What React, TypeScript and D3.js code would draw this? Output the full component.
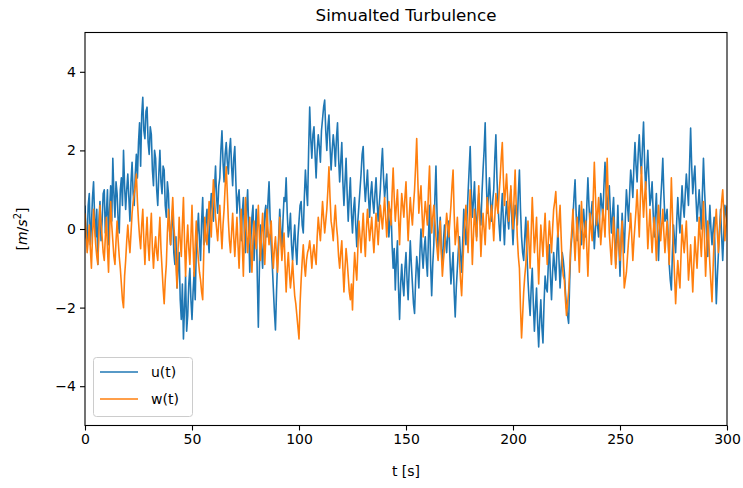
import * as d3 from "d3";
import { useEffect, useRef } from "react";

// u(t) at whole seconds, t = 0..300
const uValues = [
  0.6, -0.3, 0.9, 0.1, 1.2, -0.2, -0.9, 0.7, 0.2, 1.0,
  0.4, -0.4, 1.1, 1.8, 0.3, 0.9, -0.1, 1.3, 2.0, 0.5,
  1.4, 0.2, 1.7, 0.6, 1.9, 2.2, 1.6, 3.35, 2.3, 3.1,
  1.9, 2.4, 1.1, 1.8, 0.6, 2.0, 0.9, 1.5, 0.3, 0.9,
  -0.4, 0.5, -0.9, -1.5, -0.6, -2.3, -2.8, -1.2, -2.2, -1.0,
  -2.3, -1.1, -0.5, 0.4, -0.8, 0.8, -0.3, 0.5, -0.6, 0.9,
  0.2, 1.6, 0.4, 1.3, 2.5, 1.2, 2.2, 1.4, 2.3, 1.1,
  2.1, 0.4, 1.0, -0.3, 0.8, -0.6, 1.0, -1.1, 0.3, -0.8,
  0.5, -2.5, 0.1, -1.0, 0.4, -0.2, 1.2, -0.4, -1.5, -2.57,
  -0.8, 0.5, -0.6, 0.8, 1.3, -0.2, 0.4, -0.8, 0.1, -0.9,
  0.2, 0.7, -0.1, 1.5, 0.6, 3.1, 1.8, 2.6, 1.3, 2.4,
  1.7, 2.8, 3.28, 2.0, 2.9, 1.5, 2.4, 1.6, 2.7, 1.2,
  2.2, 0.6, 1.8, 0.2, 1.3, -0.1, 0.8, -0.45, 0.6, 1.4,
  2.1, 0.7, 1.5, 0.3, 1.2, 0.4, 1.3, 0.2, 1.0, 2.05,
  0.8, 1.4, -0.2, 0.5, -1.0, -1.55, -0.3, -2.3, -0.9, -1.7,
  -0.6, -1.8, -0.3, -1.4, -2.15, -0.7, -1.5, 0.0, -1.0, -0.2,
  -1.2, 0.6, -1.7, -0.4, 1.6, -0.5, 0.3, -0.9, 0.1, -0.6,
  0.2, -1.4, -0.6, -2.24, -1.0, -0.2, -1.1, 0.5, -0.4, 0.9,
  2.1, 0.3, 1.2, -0.2, 0.9, 0.1, 1.5, 2.7, 0.4, 1.3,
  0.2, 1.0, 2.4, 0.6, -0.3, 0.9, -0.4, 0.7, 0.0, 1.0,
  -0.4, 0.6, 0.1, 1.5, -0.2, -0.8, 0.3, -1.3, -2.2, -1.0,
  -2.6, -1.5, -3.0, -1.8, -2.9, -1.2, -1.6, -0.4, -1.8, -0.6,
  -1.3, 0.0, -1.5, -0.6, -1.1, -2.0, -2.4, -0.5, 0.3, 1.25,
  -0.3, 0.6, -0.4, 0.5, -0.2, 1.3, 0.1, 0.7, -0.5, 0.4,
  -0.2, 0.9, 0.3, 1.7, 0.5, 1.1, -0.1, 0.8, -0.9, 0.6,
  -1.2, 0.4, -0.6, 1.0, 0.2, 1.5, 0.8, 2.2, 1.2, 2.4,
  1.4, 2.72, 1.0, 2.0, 0.6, 1.2, -0.2, 0.9, -0.8, 0.7,
  1.8, 0.2, 0.5, -0.9, -1.55, 0.1, -0.6, 0.8, -0.1, 1.1,
  0.3, 1.4, 0.6, 2.57, 0.9, 1.6, 0.2, 1.0, 0.0, 1.8,
  0.4, -0.7, 0.6, -0.4, 0.3, -1.9, -0.6, 0.5, -0.8, 0.6,
  0.2,
];

// u(t) at the half seconds, t = 0.5..299.5
const uHalf = [
  -0.2, 0.6, -0.4, 0.8, 0.3, 0.5, 0.2, -0.3, 0.9, -0.1,
  1.0, 0.5, 0.2, 0.9, 1.2, 0.2, 1.0, 0.6, 1.1, 1.0,
  0.8, 1.2, 0.9, 1.4, 1.3, 2.7, 2.9, 2.5, 3.0, 2.2,
  2.6, 1.5, 2.0, 1.0, 1.4, 1.2, 1.6, 0.6, 1.2, 0.0,
  0.2, -0.6, -0.2, -1.0, -1.8, -1.4, -2.0, -2.6, -1.4, -1.8,
  -1.6, -1.8, -0.1, -0.3, 0.2, -0.4, 0.2, -0.2, 0.4, 0.5,
  1.0, 0.8, 1.1, 2.0, 1.7, 1.9, 1.7, 2.0, 1.6, 1.8,
  1.2, 0.8, 0.3, 0.4, -0.1, 0.5, 0.0, -0.3, 0.6, -0.2,
  -1.2, -1.0, -0.5, -0.2, 0.6, 0.7, 0.3, -0.9, -2.1, -1.6,
  -0.2, 0.0, 0.2, 0.7, 0.4, 0.0, -0.4, -0.3, -0.5, -0.2,
  0.6, 0.1, 0.8, 1.0, 2.0, 2.3, 2.4, 1.9, 2.0, 2.1,
  2.5, 3.1, 2.5, 2.6, 2.1, 2.0, 2.1, 2.3, 1.8, 1.7,
  1.2, 1.2, 0.9, 0.8, 0.4, 0.5, 0.1, 0.2, 1.0, 1.9,
  1.2, 1.1, 0.8, 0.9, 0.7, 0.9, 0.7, 0.6, 1.6, 1.3,
  1.1, 0.5, 0.2, -0.4, -0.5, -0.8, -1.5, -1.4, -1.4, -1.0,
  -1.3, -1.0, -0.9, -1.9, -1.3, -1.0, -0.6, -0.6, -0.5, -0.8,
  -0.2, -0.9, -0.9, 0.8, 0.4, -0.1, -0.5, -0.3, -0.3, -0.1,
  -0.7, -1.0, -1.6, -1.5, -0.5, -0.7, -0.3, 0.0, 0.3, 1.5,
  1.0, 0.7, 0.4, 0.5, 0.4, 0.9, 2.0, 1.3, 0.8, 0.7,
  0.7, 1.8, 1.3, 0.1, 0.4, 0.2, 0.3, 0.3, 0.6, 0.2,
  0.2, 0.4, 0.9, 0.5, -0.6, -0.2, -0.6, -1.8, -1.5, -1.9,
  -2.0, -2.4, -2.3, -2.5, -1.9, -1.5, -0.9, -1.2, -1.1, -1.0,
  -0.6, -0.8, -1.0, -0.8, -1.6, -2.2, -1.3, -0.2, 0.8, 0.4,
  0.2, 0.0, 0.1, 0.1, 0.6, 0.6, 0.4, 0.1, 0.0, 0.1,
  0.4, 0.6, 1.1, 1.0, 0.8, 0.4, 0.4, -0.1, -0.2, -0.4,
  -0.3, -0.1, 0.3, 0.6, 0.9, 1.2, 1.6, 1.6, 1.9, 1.8,
  2.1, 1.7, 1.5, 1.3, 0.8, 0.4, 0.4, 0.0, 0.0, 1.2,
  0.9, 0.3, -0.2, -1.3, -0.6, -0.3, 0.2, 0.3, 0.5, 0.6,
  0.9, 1.0, 1.6, 1.6, 1.3, 0.8, 0.6, 0.5, 0.9, 1.0,
  -0.2, 0.0, 0.0, 0.0, -0.8, -1.2, 0.0, -0.2, -0.1, 0.4,
];

// w(t) at whole seconds
const wValues = [
  0.4, -0.6, 0.1, -1.0, 0.5, -0.4, -0.9, 0.6, -0.2, -0.8,
  0.3, -1.1, 0.7, -0.3, -0.9, 0.2, -0.7, -1.4, -2.0, -0.8,
  0.1, -0.6, 0.4, 0.9, 1.4, 0.2, -0.5, 0.5, -0.9, 0.3,
  -0.8, 0.4, -1.0, -0.2, -0.8, 0.3, -1.0, -1.9, -0.9, 0.5,
  -0.4, 0.8, -0.3, -1.5, 0.3, -0.7, 0.8, -1.2, 0.1, -0.9,
  0.6, -1.2, 0.2, -0.8, -1.3, -1.8, 0.3, -0.4, 0.7, -0.2,
  1.25, 0.3, -0.3, 0.6, -0.5, 0.5, 1.58, 0.2, -0.6, 0.4,
  -0.7, 0.3, -1.0, 0.5, -1.2, 0.8, -0.6, 0.3, -1.1, 0.2,
  -0.5, 0.6, -0.8, 0.4, -0.9, 0.5, -0.4, 0.2, -1.0, -0.2,
  -1.1, 0.3, -0.8, -0.1, -1.6, -0.6, -1.5, -0.8, -1.7, -2.2,
  -2.8, -1.3, -0.4, -1.2, -0.6, -0.3, -1.0, -0.4, -0.9, 0.3,
  -0.3, 0.7, -0.1, 0.5, 1.58, 0.2, -0.3, 0.6, -0.2, -1.0,
  -0.3, -1.6, -0.5, -1.2, -1.8, -2.06, -0.6, -1.3, 0.2, -0.6,
  0.4, -0.7, 0.5, -0.3, 0.3, -0.6, 0.4, -0.4, 0.6, 0.0,
  0.8, -0.2, 0.7, 0.1, 1.55, 0.2, 1.0, -0.4, 0.9, 0.3,
  1.2, -0.3, 0.8, 0.1, 1.0, 2.3, 0.4, 1.1, -0.2, 0.7,
  0.1, 1.6, -0.1, 0.6, -0.2, -0.8, 0.2, -1.2, -0.5, 0.4,
  -0.2, 0.6, 1.5, -0.4, 0.3, -0.8, -1.7, -0.3, 0.6, -0.6,
  1.0, -0.9, 0.5, -0.3, 1.1, -0.7, 0.4, -0.4, 0.8, 0.0,
  0.6, -0.3, 0.9, 0.4, 1.3, 2.2, 0.6, 1.4, 0.2, 1.1,
  0.0, 1.5, -0.2, -1.0, -2.77, -1.6, -0.9, 0.2, -1.0, 0.8,
  -0.6, 0.3, -1.4, 0.1, -0.7, 0.4, -0.9, 0.2, -0.6, 0.5,
  0.95, -0.2, 0.6, -0.9, -1.3, -2.2, -1.6, -0.4, 0.5, -0.8,
  0.3, -1.1, 0.7, -0.5, 0.2, -1.2, 0.4, -0.3, 1.7, 0.1,
  0.8, -0.4, 0.5, -0.2, 1.8, -0.1, -0.9, 0.3, -1.0, 0.0,
  -0.8, 0.2, -1.5, -1.1, -0.3, 0.4, -0.8, 0.1, 1.0, -0.2,
  1.58, 0.3, 1.2, -0.5, 0.5, -0.6, 0.3, -0.8, 0.6, -0.3,
  0.5, -0.6, 0.2, -0.9, 1.3, -0.5, -1.9, -0.8, -1.5, 0.1,
  -0.6, 0.2, -1.3, -0.4, -1.6, -0.2, -1.0, 0.3, -0.7, 0.7,
  -1.2, 0.2, -0.9, -1.85, -0.2, 0.5, -0.6, 0.3, 1.0, -0.3,
  0.6,
];

// w(t) at the half seconds
const wHalf = [
  -0.1, -0.3, -0.5, -0.2, 0.0, -0.7, -0.1, 0.1, -0.6, -0.2,
  -0.5, -0.1, 0.1, -0.7, -0.3, -0.3, -1.0, -1.8, -1.2, -0.3,
  -0.3, -0.1, 0.7, 1.1, 0.7, -0.2, 0.1, -0.3, -0.2, -0.4,
  -0.1, -0.5, -0.5, -0.6, -0.2, -0.5, -1.5, -1.3, -0.1, 0.0,
  0.3, 0.1, -0.9, -0.5, -0.3, 0.1, -0.3, -0.4, -0.5, -0.2,
  -0.4, -0.4, -0.4, -1.1, -1.6, -0.6, -0.2, 0.2, 0.2, 0.6,
  0.8, 0.0, 0.2, 0.0, 0.1, 1.1, 0.9, -0.3, -0.1, -0.2,
  -0.2, -0.4, -0.2, -0.4, -0.1, 0.0, -0.2, -0.5, -0.3, -0.2,
  0.0, -0.2, -0.1, -0.3, -0.2, 0.0, -0.1, -0.5, -0.5, -0.7,
  -0.4, -0.3, -0.4, -0.9, -1.0, -1.1, -1.2, -1.3, -1.9, -2.5,
  -1.9, -0.8, -0.9, -0.8, -0.5, -0.6, -0.6, -0.7, -0.2, 0.0,
  0.2, 0.3, 0.2, 1.0, 0.8, 0.0, 0.2, 0.1, -0.7, -0.6,
  -1.0, -1.0, -0.8, -1.6, -1.4, -1.2, -1.0, -0.5, -0.2, -0.1,
  -0.2, 0.0, 0.1, 0.0, -0.2, -0.1, 0.0, 0.1, 0.3, 0.4,
  0.3, 0.3, 0.4, 0.9, 0.8, 0.6, 0.3, 0.3, 0.6, 0.8,
  0.4, 0.3, 0.4, 0.6, 1.6, 1.3, 0.8, 0.4, 0.3, 0.4,
  1.0, 0.6, 0.3, 0.2, -0.5, -0.3, -0.6, -0.8, 0.0, 0.1,
  0.2, 1.1, 0.4, -0.1, -0.3, -1.3, -1.0, 0.2, 0.0, 0.2,
  0.1, -0.2, 0.1, 0.4, 0.2, -0.1, 0.0, 0.3, 0.4, 0.3,
  0.2, 0.3, 0.6, 0.9, 1.8, 1.3, 1.0, 0.8, 0.6, 0.5,
  0.8, 0.6, -0.7, -2.0, -2.2, -1.2, -0.3, -0.4, -0.1, 0.1,
  -0.2, -0.6, -0.6, -0.3, -0.1, -0.3, -0.3, -0.2, 0.0, 0.7,
  0.3, 0.2, -0.2, -1.2, -1.8, -1.9, -1.0, 0.0, -0.2, -0.2,
  -0.4, -0.2, 0.1, -0.1, -0.5, -0.4, 0.0, 0.8, 0.9, 0.4,
  0.2, 0.0, 0.2, 0.8, 0.8, -0.5, -0.3, -0.3, -0.5, -0.4,
  -0.3, -0.6, -1.3, -0.7, 0.0, -0.2, -0.3, 0.5, 0.4, 0.7,
  0.9, 0.8, 0.3, 0.0, -0.1, -0.1, -0.2, -0.1, 0.1, 0.1,
  -0.1, -0.2, -0.3, 0.2, 0.4, -1.2, -1.3, -1.2, -0.7, -0.3,
  -0.2, -0.5, -0.9, -1.0, -0.9, -0.6, -0.4, -0.2, 0.0, -0.3,
  -0.5, -0.3, -1.4, -1.0, 0.1, -0.1, -0.1, 0.7, 0.4, 0.1,
];

const xTicks = [0, 50, 100, 150, 200, 250, 300];
const yTicks = [-4, -2, 0, 2, 4];
const seriesNames = ["u(t)", "w(t)"];
const seriesColors = ["#1f77b4", "#ff7f0e"];

const W = 743;
const H = 488;
const margin = { top: 32.5, right: 16, bottom: 62.5, left: 85 };
const font = "DejaVu Sans, sans-serif";

// interleave whole-second and half-second readings into [t, v] pairs
const toPoints = (whole: number[], half: number[]) => {
  const pts: [number, number][] = [];
  whole.forEach((v, i) => {
    pts.push([i, v]);
    if (i < half.length) pts.push([i + 0.5, half[i]]);
  });
  return pts;
};

const App = () => {
  const ref = useRef<SVGSVGElement>(null);

  useEffect(() => {
    const svg = d3.select(ref.current);
    svg.selectAll("*").remove();

    const x = d3.scaleLinear().domain([0, 300]).range([margin.left, W - margin.right]);
    const y = d3.scaleLinear().domain([-5, 5]).range([H - margin.bottom, margin.top]);

    svg.append("rect").attr("width", W).attr("height", H).attr("fill", "#fff");

    const clipId = "plot-clip";
    svg.append("clipPath").attr("id", clipId)
      .append("rect")
      .attr("x", x(0)).attr("y", y(5))
      .attr("width", x(300) - x(0)).attr("height", y(-5) - y(5));

    const line = d3.line<[number, number]>()
      .x((d) => x(d[0]))
      .y((d) => y(d[1]));

    const plot = svg.append("g").attr("clip-path", `url(#${clipId})`);
    [toPoints(uValues, uHalf), toPoints(wValues, wHalf)].forEach((pts, k) => {
      plot.append("path")
        .datum(pts)
        .attr("d", line)
        .attr("fill", "none")
        .attr("stroke", seriesColors[k])
        .attr("stroke-width", 1.6)
        .attr("stroke-linejoin", "round");
    });

    const xAxis = d3.axisBottom(x).tickValues(xTicks).tickSize(5).tickPadding(4).tickFormat(d3.format("d"));
    const yAxis = d3.axisLeft(y).tickValues(yTicks).tickSize(5).tickPadding(4)
      .tickFormat((d) => (d as number) < 0 ? "\u2212" + Math.abs(d as number) : String(d));

    const gx = svg.append("g").attr("transform", `translate(0,${y(-5)})`).call(xAxis);
    const gy = svg.append("g").attr("transform", `translate(${x(0)},0)`).call(yAxis);
    [gx, gy].forEach((g) => {
      g.select(".domain").remove();
      g.selectAll("line").attr("stroke", "#000").attr("stroke-width", 1.1);
      g.selectAll("text").attr("fill", "#000").style("font-family", font).style("font-size", "14px");
    });

    svg.append("rect")
      .attr("x", x(0)).attr("y", y(5))
      .attr("width", x(300) - x(0)).attr("height", y(-5) - y(5))
      .attr("fill", "none").attr("stroke", "#000").attr("stroke-width", 1.1);

    svg.append("text")
      .attr("x", (x(0) + x(300)) / 2).attr("y", 21)
      .attr("text-anchor", "middle")
      .style("font-family", font).style("font-size", "16.7px")
      .text("Simualted Turbulence");

    svg.append("text")
      .attr("x", (x(0) + x(300)) / 2).attr("y", 476)
      .attr("text-anchor", "middle")
      .style("font-family", font).style("font-size", "14px")
      .text("t [s]");

    const yl = svg.append("text")
      .attr("transform", `translate(27,${y(0)}) rotate(-90)`)
      .attr("text-anchor", "middle")
      .style("font-family", font).style("font-size", "14px");
    yl.append("tspan").text("[");
    yl.append("tspan").attr("font-style", "italic").text("m");
    yl.append("tspan").text("/");
    yl.append("tspan").attr("font-style", "italic").text("s");
    yl.append("tspan").attr("font-size", "10px").attr("dy", -6).text("2");
    yl.append("tspan").attr("dy", 6).text("]");

    const leg = svg.append("g");
    leg.append("rect")
      .attr("x", 93.5).attr("y", 357.5).attr("width", 99).attr("height", 59)
      .attr("rx", 3).attr("fill", "#fff").attr("fill-opacity", 0.8)
      .attr("stroke", "#ccc").attr("stroke-width", 1);
    seriesNames.forEach((name, k) => {
      const ly = 372 + k * 27;
      leg.append("line")
        .attr("x1", 100).attr("x2", 138).attr("y1", ly).attr("y2", ly)
        .attr("stroke", seriesColors[k]).attr("stroke-width", 1.5);
      leg.append("text")
        .attr("x", 151).attr("y", ly + 5)
        .style("font-family", font).style("font-size", "14px")
        .text(name);
    });
  }, []);

  return (
    <svg ref={ref} width={W} height={H} style={{ position: "absolute", left: 0, top: 0 }} />
  );
};

export default App;
